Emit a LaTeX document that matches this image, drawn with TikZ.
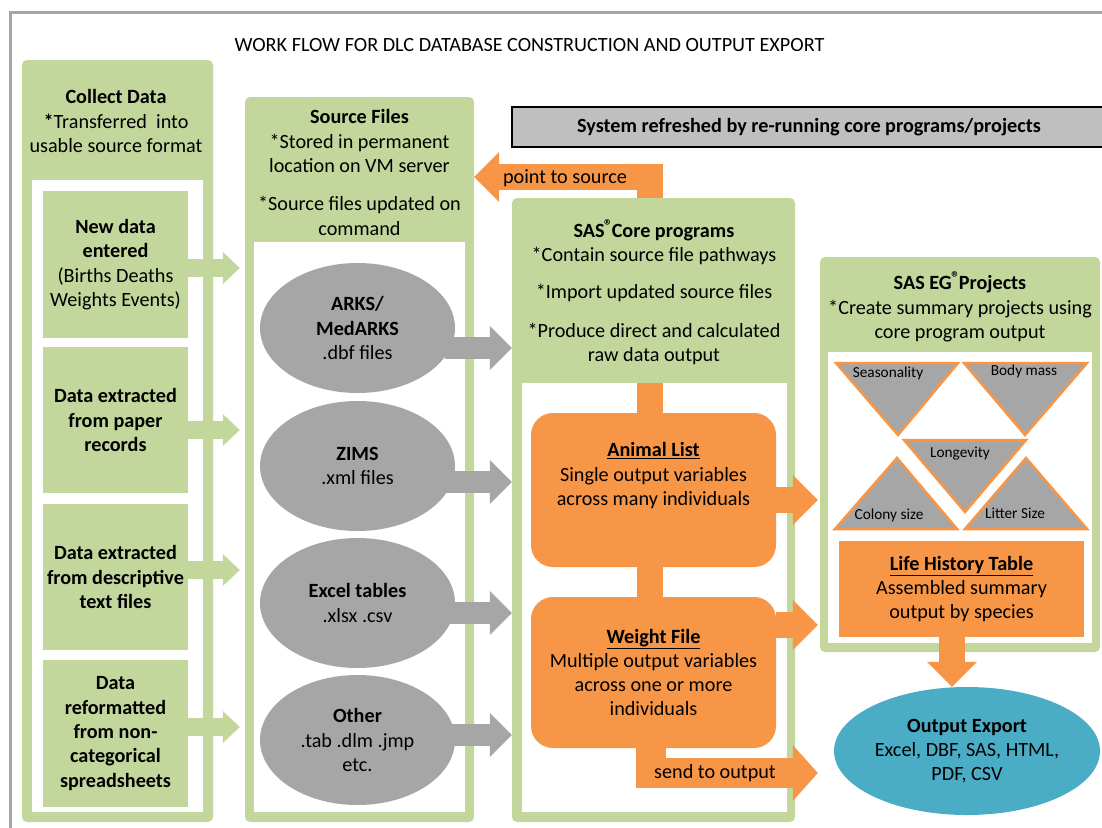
\documentclass[tikz,border=0pt]{standalone}
\usepackage{fontspec}
\setmainfont{Carlito}
\usetikzlibrary{shapes.geometric,arrows.meta}

\definecolor{boxgreen}{HTML}{C3D69B}
\definecolor{flowgray}{HTML}{A6A6A6}
\definecolor{bannergray}{HTML}{BFBFBF}
\definecolor{floworange}{HTML}{F79646}
\definecolor{exportblue}{HTML}{4BACC6}

\newcommand{\flowfont}{\fontsize{20.2}{24.3}\selectfont}
\newcommand{\regmark}{\kern-0.5pt\raisebox{0.3em}{\fontsize{17}{17}\selectfont ®}\kern-1pt}

\tikzset{
	column/.style={fill=boxgreen,rounded corners=5pt,inner sep=0pt},
	innerbox/.style={fill=white,inner sep=0pt},
	itembox/.style={fill=boxgreen,inner sep=0pt,align=center,minimum width=145pt,minimum height=147pt},
	srcfile/.style={ellipse,fill=flowgray,inner sep=0pt,minimum width=195pt,minimum height=130pt,align=center},
	stage/.style={fill=floworange,rounded corners=22pt,inner sep=0pt,minimum width=245pt,align=center},
	head/.style={align=center,inner sep=0pt},
	greenarrow/.style={draw=boxgreen,line width=18pt,-{Triangle[length=17pt,width=32pt,line width=0pt]}},
	grayarrow/.style={draw=flowgray,line width=22pt,-{Triangle[length=22pt,width=44pt,line width=0pt]}},
	orangearrow/.style={draw=floworange,line width=26pt,line join=miter,-{Triangle[length=25pt,width=50pt,line width=0pt]}},
	orangebar/.style={draw=floworange,line width=26pt},
	tri/.style={fill=flowgray,draw=floworange,line width=2.5pt,line join=miter},
	trilabel/.style={font=\fontsize{15.3}{18}\selectfont,inner sep=0pt},
}

\begin{document}
\begin{tikzpicture}[x=1pt,y=-1pt,font=\flowfont]
	\useasboundingbox (0,0) rectangle (1102,827);
	\clip (0,0) rectangle (1102,827);
	\draw [flowgray,line width=3pt] (1110,12) -- (10,12) -- (10,830);
	\node [inner sep=0pt] (title) at (529.5,45) {WORK FLOW FOR DLC DATABASE CONSTRUCTION AND OUTPUT EXPORT};
	\node [draw=black,line width=2.5pt,fill=bannergray,minimum width=594pt,minimum height=40pt,inner sep=0pt,font=\flowfont\bfseries] (refresh) at (809,127) {System refreshed by re-running core programs/projects};

	\node [column,minimum width=191pt,minimum height=762pt] (collect) at (117.5,441) {};
	\node [innerbox,minimum width=171pt,minimum height=632pt] (collectinner) at (117.5,496) {};
	\node [head] (collecthead) at (116,121) {\textbf{Collect Data}\\\textbf{*}Transferred\ \ into\\usable source format};
	\node [itembox] (newdata) at (115.5,264.5) {\textbf{New data}\\\textbf{entered}\\(Births Deaths\\Weights Events)};
	\node [itembox,minimum height=146pt,font=\flowfont\bfseries] (paper) at (115.5,420) {Data extracted\\from paper\\records};
	\node [itembox,minimum height=146pt,font=\flowfont\bfseries] (textfiles) at (115.5,577) {Data extracted\\from descriptive\\text files};
	\node [itembox,font=\flowfont\bfseries] (sheets) at (115.5,733.5) {Data\\reformatted\\from non-\\categorical\\spreadsheets};

	\node [column,minimum width=229pt,minimum height=725pt] (source) at (359.5,459.5) {};
	\node [innerbox,minimum width=211pt,minimum height=570pt] (sourceinner) at (359.5,527) {};
	\node [head] (sourcehead) at (359.5,141) {\textbf{Source Files}\\*Stored in permanent\\location on VM server};
	\node [head] (sourcenote) at (359.5,216) {*Source files updated on\\command};
	\node [srcfile] (arks) at (357.5,328) {\textbf{ARKS/}\\\textbf{MedARKS}\\.dbf files};
	\node [srcfile] (zims) at (357.5,466) {\textbf{ZIMS}\\.xml files};
	\node [srcfile] (excel) at (357.5,603) {\textbf{Excel tables}\\.xlsx .csv};
	\node [srcfile] (other) at (357.5,740) {\textbf{Other}\\.tab .dlm .jmp\\etc.};

	\draw [greenarrow,shorten >=5pt] (newdata.east |- 0,268) -- (source.west |- 0,268);
	\draw [greenarrow,shorten >=5pt] (paper.east |- 0,430) -- (source.west |- 0,430);
	\draw [greenarrow,shorten >=5pt] (textfiles.east |- 0,570) -- (source.west |- 0,570);
	\draw [greenarrow,shorten >=5pt] (sheets.east |- 0,727) -- (source.west |- 0,727);

	\node [column,minimum width=283pt,minimum height=624pt] (core) at (653.5,510) {};
	\node [innerbox,minimum width=265pt,minimum height=429pt] (coreinner) at (654.5,597.5) {};
	\node [head] (corehead) at (654,242) {\textbf{SAS\regmark Core programs}\\*Contain source file pathways};
	\node [head] (coreimport) at (654,293) {*Import updated source files};
	\node [head] (coreproduce) at (654,344) {*Produce direct and calculated\\raw data output};
	\node [stage,minimum height=154pt] (animal) at (653.5,490) {\underline{\textbf{Animal List}}\\Single output variables\\across many individuals\\\strut};
	\node [stage,minimum height=151pt] (weight) at (653.5,672.5) {\underline{\textbf{Weight File}}\\Multiple output variables\\across one or more\\individuals};
	\draw [orangebar] (coreinner.north -| 650,0) -- (animal.north -| 650,0);
	\draw [orangebar] (animal.south -| 650,0) -- (weight.north -| 650,0);

	\draw [grayarrow,shorten <=-10pt] (arks.east |- 0,348) -- (core.west |- 0,348);
	\draw [grayarrow,shorten <=-10pt] (zims.east |- 0,482) -- (core.west |- 0,482);
	\draw [grayarrow,shorten <=-10pt] (excel.east |- 0,613) -- (core.west |- 0,613);
	\draw [grayarrow,shorten <=-10pt] (other.east |- 0,735) -- (core.west |- 0,735);

	\draw [orangearrow] (core.north -| 650,0) -- (650,177) -- (source.east |- 0,177);
	\node [inner sep=0pt] (pointlabel) at (565,178) {point to source};

	\node [column,minimum width=280pt,minimum height=395pt] (eg) at (960,454.5) {};
	\node [innerbox,minimum width=264pt,minimum height=291pt] (eginner) at (960,497.5) {};
	\node [head] (eghead) at (960,307) {\textbf{SAS EG\regmark Projects}\\*Create summary projects using\\core program output};
	\draw [tri] (836,363) -- (958,363) -- (898,435) -- cycle;
	\draw [tri] (964,363) -- (1087,363) -- (1025,435) -- cycle;
	\draw [tri] (904,440) -- (1026,440) -- (965,512) -- cycle;
	\draw [tri] (897,458) -- (957,529) -- (835,529) -- cycle;
	\draw [tri] (1026,458) -- (1087,529) -- (965,529) -- cycle;
	\node [trilabel] (seasonality) at (888,373) {Seasonality};
	\node [trilabel] (bodymass) at (1024,371) {Body mass};
	\node [trilabel] (longevity) at (960,454) {Longevity};
	\node [trilabel] (colony) at (889,515) {Colony size};
	\node [trilabel] (litter) at (1015,513) {Litter Size};
	\node [fill=floworange,minimum width=245pt,minimum height=96pt,inner sep=0pt,align=center] (life) at (961.5,589) {\underline{\textbf{Life History Table}}\\Assembled summary\\output by species};

	\draw [orangearrow,shorten >=2pt] (animal.east |- 0,500) -- (eg.west |- 0,500);
	\draw [orangearrow,shorten >=2pt] (weight.east |- 0,625) -- (eg.west |- 0,625);

	\node [ellipse,fill=exportblue,minimum width=266pt,minimum height=128pt,inner sep=0pt,align=center] (export) at (967,751) {\textbf{Output Export}\\Excel, DBF, SAS, HTML,\\PDF, CSV};
	\draw [orangearrow] (life.south -| 952,0) -- (export.north -| 952,0);
	\draw [orangearrow,line width=30pt,-{Triangle[length=25pt,width=56pt,line width=0pt]},shorten >=16pt] (weight.south -| 651,0) -- (651,773) -- (export.west |- 0,773);
	\node [inner sep=0pt] (sendlabel) at (715,773) {send to output};
\end{tikzpicture}
\end{document}
